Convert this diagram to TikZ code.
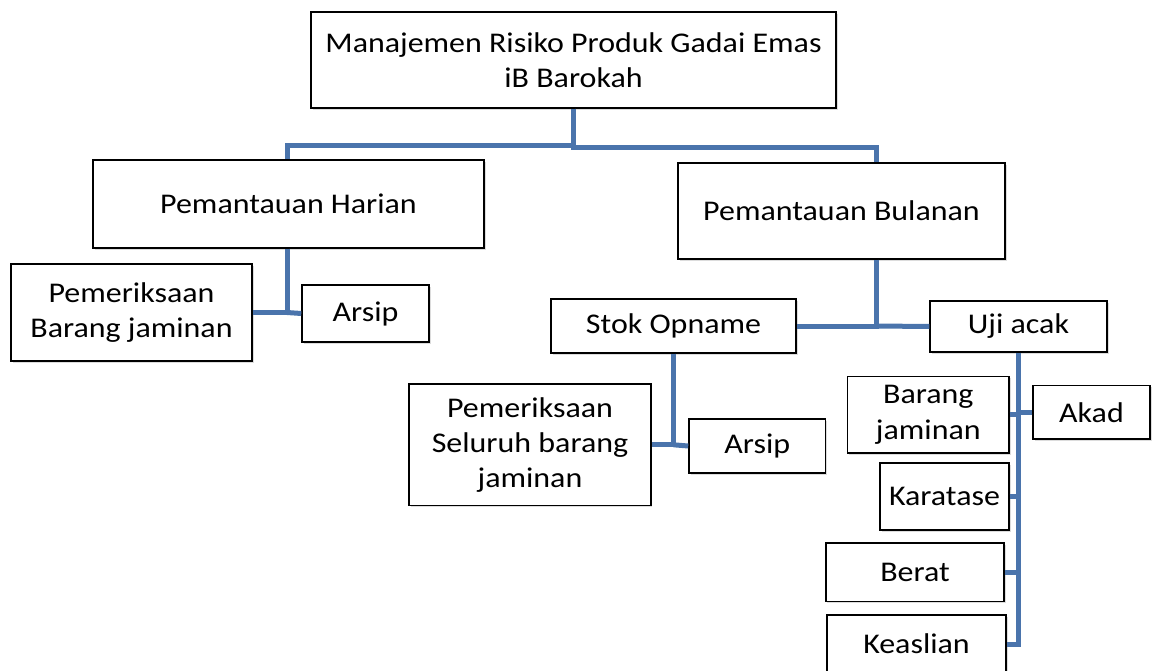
\documentclass[tikz,border=0pt]{standalone}
\usepackage{fontspec}
\setmainfont{Carlito}[FakeStretch=1.12]
\usetikzlibrary{shadows}

\tikzset{every picture/.style={line width=0.75pt}}
\definecolor{busblue}{RGB}{74,116,172}
\tikzset{
  kotak/.style={draw=black, line width=1.1pt, fill=white, inner sep=0pt, align=center,
    drop shadow={shadow xshift=1.2pt, shadow yshift=-1.2pt, fill=black!30, opacity=0.45}},
  bus/.style={draw=busblue, line width=3.75pt}
}

\begin{document}
\begin{tikzpicture}[x=0.75pt,y=0.75pt,yscale=-1,xscale=1,font=\fontsize{21.4}{26.3}\selectfont]
	\useasboundingbox (0,0) rectangle (1154,671);
	
	%Shape: Rectangle [top]
	\node [kotak, minimum width=393.75pt, minimum height=72pt] (top) at (573.5,60) {Manajemen Risiko Produk Gadai Emas\\iB Barokah};
	%Shape: Rectangle [level 1]
	\node [kotak, minimum width=293.25pt, minimum height=66pt] (harian) at (288.5,204) {Pemantauan Harian};
	\node [kotak, minimum width=245.25pt, minimum height=72pt] (bulanan) at (841.5,211) {Pemantauan Bulanan};
	%Shape: Rectangle [harian]
	\node [kotak, minimum width=180.75pt, minimum height=72.75pt] (periksa) at (131.5,312.5) {Pemeriksaan\\Barang jaminan};
	\node [kotak, minimum width=95.25pt, minimum height=42.75pt] (arsipA) at (365.5,313.5) {Arsip};
	%Shape: Rectangle [bulanan]
	\node [kotak, minimum width=183.75pt, minimum height=40.5pt] (stok) at (673.5,326) {Stok Opname};
	\node [kotak, minimum width=132.75pt, minimum height=38.25pt] (uji) at (1018.5,326.5) {Uji acak};
	%Shape: Rectangle [stok opname]
	\node [kotak, minimum width=181.25pt, minimum height=91.25pt] (seluruh) at (530,444.8) {Pemeriksaan\\Seluruh barang\\jaminan};
	\node [kotak, minimum width=102.5pt, minimum height=40.5pt] (arsipB) at (757.3,446) {Arsip};
	%Shape: Rectangle [uji acak]
	\node [kotak, minimum width=121pt, minimum height=57.25pt] (barang) at (928.3,414.8) {Barang\\jaminan};
	\node [kotak, minimum width=87.75pt, minimum height=40pt] (akad) at (1091.5,412.4) {Akad};
	\node [kotak, minimum width=96.75pt, minimum height=50.25pt] (karatase) at (944.5,496.5) {Karatase};
	\node [kotak, minimum width=133.75pt, minimum height=44pt] (berat) at (915,572.4) {Berat};
	\node [kotak, minimum width=134.25pt, minimum height=43.5pt] (keaslian) at (916.5,644) {Keaslian};
	
	%Straight Lines [bus points]
	\coordinate (busL) at (287,145);
	\coordinate (busR) at (876,147);
	
	%Straight Lines [top]
	\draw [bus] (top.south) |- (busL) -- (busL |- harian.north);
	\draw [bus] (top.south) |- (busR) -- (busR |- bulanan.north);
	%Straight Lines [harian]
	\draw [bus] (busL |- harian.south) |- (periksa.east);
	\draw [bus] (busL |- periksa.east) -- (arsipA.west);
	%Straight Lines [bulanan]
	\draw [bus] (busR |- bulanan.south) |- (stok.east);
	\draw [bus] (busR |- stok.east) -- (uji.west);
	%Straight Lines [stok opname]
	\draw [bus] (stok.south) |- (seluruh.east);
	\draw [bus] (stok.south |- seluruh.east) -- (arsipB.west);
	%Straight Lines [uji acak]
	\draw [bus] (uji.south) |- (keaslian.east);
	\foreach \n in {barang,karatase,berat}
	  \draw [bus] (\n.east) -- (\n.east -| uji.south);
	\draw [bus] (akad.west) -- (akad.west -| uji.south);
	
\end{tikzpicture}
\end{document}
